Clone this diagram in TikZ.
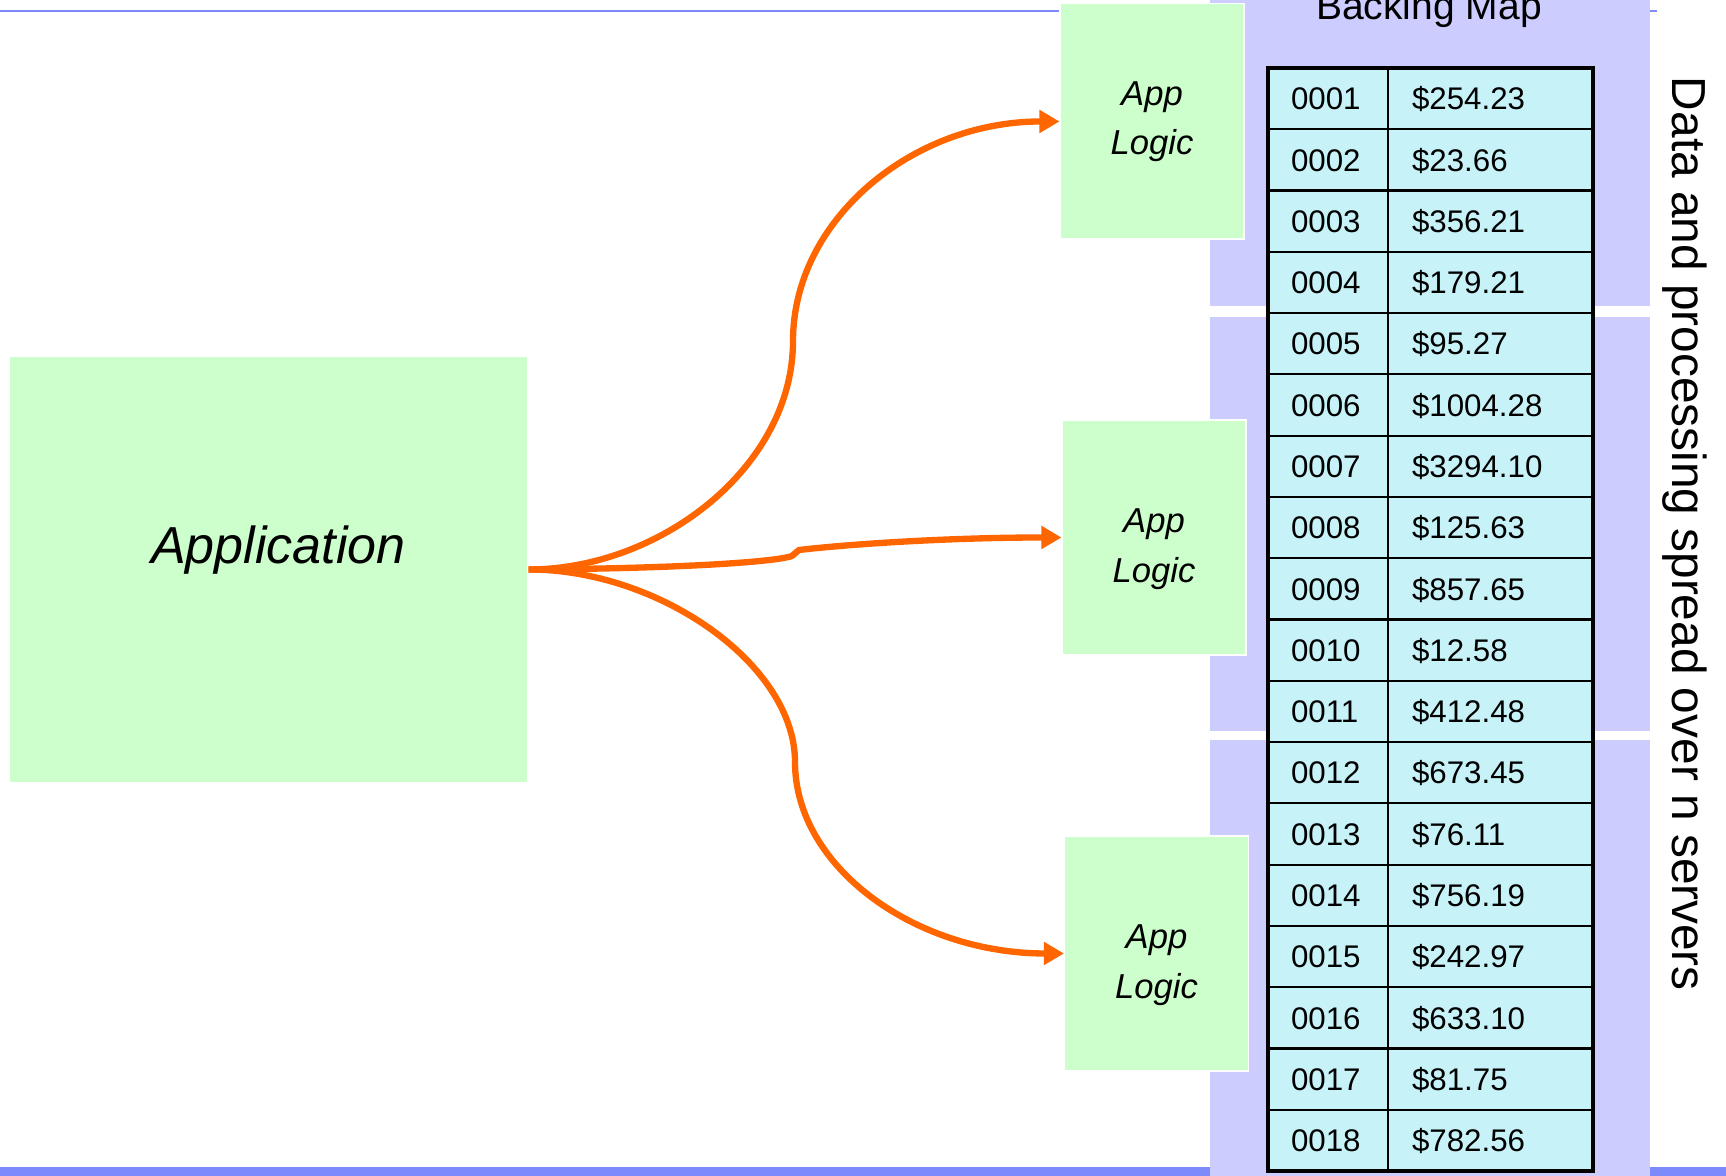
\documentclass[tikz,border=0pt]{standalone}
\usepackage{fontspec}
\setmainfont{Liberation Sans}
\usetikzlibrary{arrows.meta,positioning,calc}
\definecolor{appgreen}{RGB}{204,255,204}
\definecolor{mapbg}{RGB}{204,204,255}
\definecolor{cellcyan}{RGB}{198,242,248}
\definecolor{flowred}{RGB}{255,102,0}
\definecolor{ruleblue}{RGB}{124,138,250}

\begin{document}
\begin{tikzpicture}[>={Triangle[length=2mm,width=2.2mm]},
appbox/.style={fill=appgreen,draw=white,line width=0.3pt,inner sep=0pt},
logic/.style={appbox,minimum width=1.84cm,minimum height=2.35cm,align=center,font=\fontsize{9.85}{14.1}\selectfont\itshape},
cell/.style={draw=black,line width=0.6pt,fill=cellcyan,anchor=north west,outer sep=0pt,minimum height=0.6128cm,align=left,text height=2.25mm,text depth=0mm,font=\fontsize{8.9}{10}\selectfont},
keycell/.style={cell,minimum width=1.2cm,text width=0.74cm,inner xsep=0.23cm},
valcell/.style={cell,minimum width=2.05cm,text width=1.57cm,inner xsep=0.24cm},
flow/.style={->,line width=1.8pt,draw=flowred,line join=round},
rule/.style={draw=ruleblue,line width=0.8pt}]
\useasboundingbox (0,0) rectangle (17.26,11.76);
% slide rules
\draw[rule] (0,11.65) -- (16.57,11.65);
\fill[ruleblue] (0,0) rectangle (17.26,0.09);
% one band per server
\fill[mapbg] (12.10,11.76) rectangle (16.50,8.70);
\fill[mapbg] (12.10,8.59) rectangle (16.50,4.45);
\fill[mapbg] (12.10,4.36) rectangle (16.50,0);
\node[font=\fontsize{11.1}{13}\selectfont,anchor=base] (maptitle) at (14.29,11.56) {Backing Map};
\node[rotate=-90,anchor=base,font=\fontsize{13.6}{16}\selectfont] (spread) at (16.72,6.42)
{Data and processing spread over n servers};
\node[appbox,minimum width=5.19cm,minimum height=4.27cm,text height=3mm,text depth=4.1mm,font=\fontsize{14.8}{18}\selectfont\itshape] (app) at (2.685,6.065) {\hspace*{0.2cm}Application};
\node[logic] (logic1) at (11.52,10.545) {App\\Logic};
\node[logic,text height=9mm,text depth=0mm] (logic2) at (11.54,6.385) {App\\Logic};
\node[logic,text height=9mm,text depth=0mm] (logic3) at (11.565,2.225) {App\\Logic};
\draw[flow] (app.east) .. controls (6.6,6.065) and (7.93,7.09) .. (7.93,8.35)
.. controls (7.93,9.56) and (9.12,10.545) .. (logic1.west);
\draw[flow] (app.east) .. controls (6.8,6.075) and (7.75,6.14) .. (7.92,6.2) -- (7.99,6.26)
.. controls (8.6,6.33) and (9.6,6.385) .. (logic2.west);
\draw[flow] (app.east) .. controls (6.6,6.065) and (7.95,5.11) .. (7.95,4.14)
.. controls (7.95,3.09) and (9.15,2.225) .. (logic3.west);
% backing map entries
\foreach \key/\val [count=\i from 0] in {0001/254.23,0002/23.66,0003/356.21,0004/179.21,0005/95.27,0006/1004.28,0007/3294.10,0008/125.63,0009/857.65,0010/12.58,0011/412.48,0012/673.45,0013/76.11,0014/756.19,0015/242.97,0016/633.10,0017/81.75,0018/782.56}
{
\node[keycell] (k\key) at (12.68,{11.08-\i*0.6128}) {\key};
\node[valcell] (v\key) at (13.88,{11.08-\i*0.6128}) {\$\val};
}
\draw[line width=1.3pt] (k0001.north west) rectangle (v0018.south east);
\end{tikzpicture}
\end{document}
